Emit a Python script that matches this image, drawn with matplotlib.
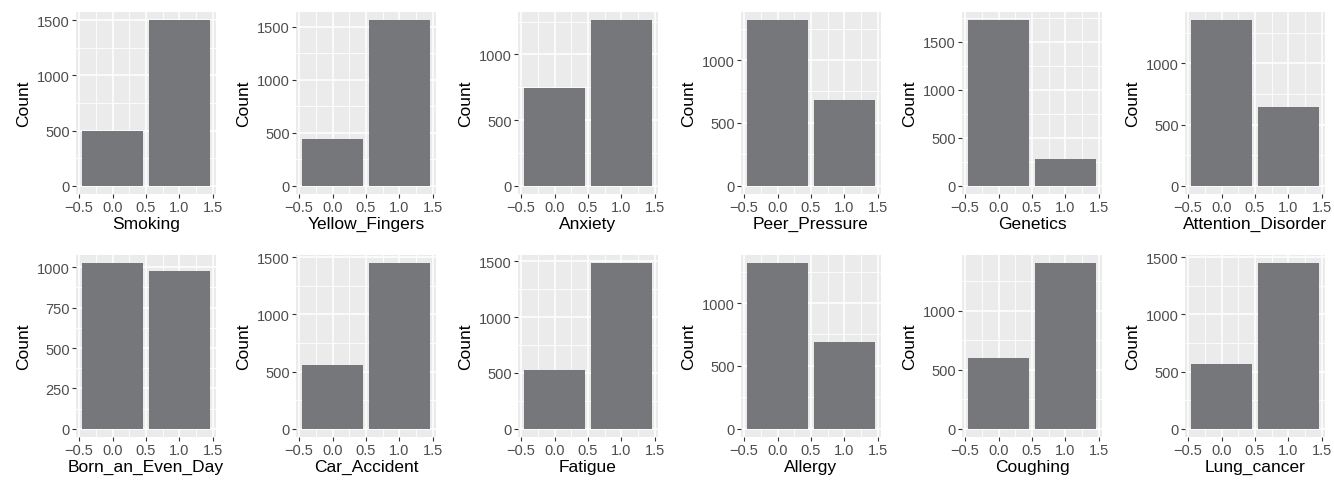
import matplotlib
matplotlib.use("Agg")
import matplotlib.pyplot as plt
import numpy as np

# counts of 0 / 1 for each variable
variables = ['Smoking', 'Yellow_Fingers', 'Anxiety', 'Peer_Pressure', 'Genetics', 'Attention_Disorder',
             'Born_an_Even_Day', 'Car_Accident', 'Fatigue', 'Allergy', 'Coughing', 'Lung_cancer']
count_0 = [500, 438, 742, 1316, 1725, 1352, 1025, 556, 528, 1316, 603, 562]
count_1 = [1500, 1562, 1260, 684, 278, 646, 980, 1448, 1482, 686, 1403, 1446]
y_steps = [500, 500, 500, 500, 500, 500, 250, 500, 500, 500, 500, 500]
levels = [0, 1]
x_breaks = [-0.5, 0.0, 0.5, 1.0, 1.5]

plt.rcParams['font.family'] = ['Liberation Sans', 'DejaVu Sans']

W, H = 1334, 481
fig = plt.figure(figsize=(W / 100, H / 100), dpi=100)

col_left = [76, 296, 518, 741, 962, 1185]
row_top = [13, 256]
pw, ph = 140, 182

for i, name in enumerate(variables):
    r, c = divmod(i, 6)
    ax = fig.add_axes([col_left[c] / W, 1 - (row_top[r] + ph) / H, pw / W, ph / H])
    ax.set_facecolor('#ebebeb')
    for s in ax.spines.values():
        s.set_visible(False)

    vals = [count_0[i], count_1[i]]
    ymax = max(vals)
    step = y_steps[i]
    ylim = (-0.05 * ymax, 1.05 * ymax)
    yt = np.arange(0, ylim[1] + 1, step)
    ymin_t = np.arange(step / 2, ylim[1], step)

    # grid
    for x in [-0.25, 0.25, 0.75, 1.25]:
        ax.axvline(x, color='white', lw=0.6, zorder=0)
    for x in x_breaks:
        ax.axvline(x, color='white', lw=1.1, zorder=0)
    for y in ymin_t:
        ax.axhline(y, color='white', lw=0.6, zorder=0)
    for y in yt:
        ax.axhline(y, color='white', lw=1.1, zorder=0)

    ax.bar(levels, vals, width=0.9, color='#76777b', zorder=2)

    ax.set_xlim(-0.545, 1.545)
    ax.set_ylim(*ylim)
    ax.set_xticks(x_breaks)
    ax.set_xticklabels(['\u22120.5', '0.0', '0.5', '1.0', '1.5'])
    ax.set_yticks(yt)
    ax.set_yticklabels([str(int(v)) for v in yt])
    ax.tick_params(axis='both', length=3, width=0.8, color='#333333', labelcolor='#4d4d4d',
                   labelsize=10.5, pad=1.5)
    ax.set_xlabel(name, fontsize=12.5, color='black', labelpad=1.5)
    ax.set_ylabel('Count', fontsize=12.5, color='black', labelpad=4)

plt.savefig('out.png', dpi=100)
plt.close()
